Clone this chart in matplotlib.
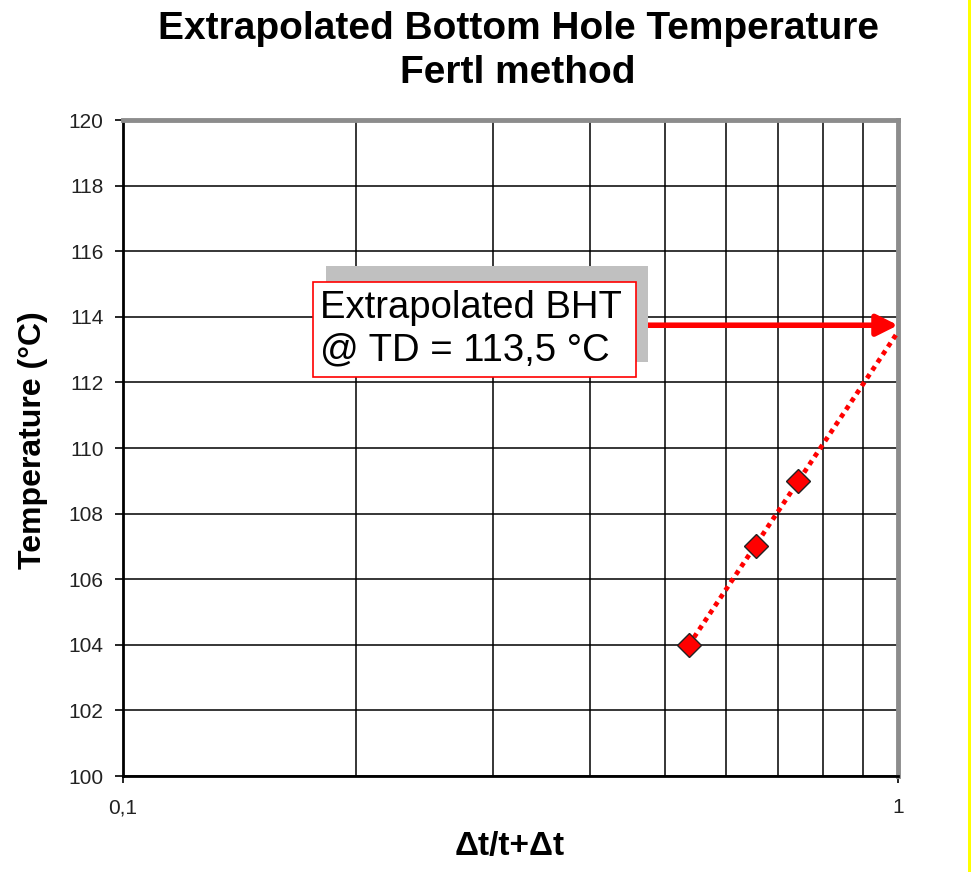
import numpy as np
import matplotlib
matplotlib.use("Agg")
import matplotlib.pyplot as plt
from matplotlib.patches import Rectangle
from matplotlib.ticker import FixedLocator, NullFormatter

plt.rcParams['font.family'] = ['Liberation Sans', 'DejaVu Sans']

# data
dt_ratio = [0.537, 0.655, 0.743]      # delta t / (t + delta t)
temperature = [104, 107, 109]         # degC
bht_label = "Extrapolated BHT\n@ TD = 113,5 °C"
y_ticks = list(range(100, 121, 2))
x_minor = [0.2, 0.3, 0.4, 0.5, 0.6, 0.7, 0.8, 0.9]

# linear fit of T against log10(x), extrapolated to x = 1
coef = np.polyfit(np.log10(dt_ratio), temperature, 1)
x_fit = np.array([dt_ratio[0], 1.0])
y_fit = np.polyval(coef, np.log10(x_fit))

fig = plt.figure(figsize=(9.72, 8.72), dpi=100)
ax = fig.add_axes([123 / 972, 1 - 776 / 872, 775 / 972, 656 / 872])

ax.set_xscale('log')
ax.set_xlim(0.1, 1)
ax.set_ylim(100, 120)

ax.xaxis.set_major_locator(FixedLocator([0.1, 1]))
ax.xaxis.set_minor_locator(FixedLocator(x_minor))
ax.xaxis.set_minor_formatter(NullFormatter())
ax.set_xticklabels(['0,1', '1'])
ax.set_yticks(y_ticks)

ax.grid(True, which='both', color='black', lw=1.1)
ax.set_axisbelow(True)
ax.tick_params(axis='x', which='major', direction='out', length=5, width=1.2,
               pad=11, labelsize=15, labelcolor='#222222')
ax.tick_params(axis='x', which='minor', length=0)
ax.tick_params(axis='y', direction='out', length=6, width=1.2, pad=8,
               labelsize=15, labelcolor='#222222')

for s in ['left', 'bottom']:
    ax.spines[s].set_color('black')
    ax.spines[s].set_linewidth(2)
for s in ['top', 'right']:
    ax.spines[s].set_color('#8c8c8c')
    ax.spines[s].set_linewidth(3.5)

# trend line and points
ax.plot(x_fit, y_fit, color='red', lw=3.4, ls=(0, (1, 1)),
        dash_capstyle='butt', zorder=3)
ax.plot(dt_ratio, temperature, ls='none', marker='D', ms=12,
        mfc='red', mec='#222222', mew=1, zorder=4)

# arrow pointing at the extrapolated value
ax.annotate('', xy=(1, y_fit[-1] + 0.2), xytext=(0.46, y_fit[-1] + 0.2),
            arrowprops=dict(arrowstyle='-|>', color='red', lw=4,
                            mutation_scale=32, shrinkA=0, shrinkB=0),
            zorder=5)

# text box with shadow
ax.add_patch(Rectangle((0.262, 0.631), 0.415, 0.146, transform=ax.transAxes,
                       facecolor='#c0c0c0', edgecolor='none', zorder=6))
ax.add_patch(Rectangle((0.245, 0.608), 0.417, 0.145, transform=ax.transAxes,
                       facecolor='white', edgecolor='red', lw=1.2, zorder=7))
ax.text(0.254, 0.681, bht_label, transform=ax.transAxes, ha='left',
        va='center', fontsize=27.5, linespacing=1.2, zorder=8)

fig.text(518 / 972, 1 - 29 / 872, 'Extrapolated Bottom Hole Temperature',
         ha='center', va='center', fontsize=28, fontweight='bold')
fig.text(518 / 972, 1 - 73 / 872, 'Fertl method',
         ha='center', va='center', fontsize=28, fontweight='bold')
fig.text(33 / 972, 1 - 440 / 872, 'Temperature (°C)', rotation=90,
         ha='center', va='center', fontsize=23, fontweight='bold')
fig.text(510 / 972, 1 - 846 / 872, 'Δt/t+Δt',
         ha='center', va='center', fontsize=24, fontweight='bold')

# yellow strip at the right edge
fig.add_artist(Rectangle((968 / 972, 0), 3 / 972, 1, transform=fig.transFigure,
                         facecolor='#ffff00', edgecolor='none'))

fig.savefig('out.png', dpi=100)
